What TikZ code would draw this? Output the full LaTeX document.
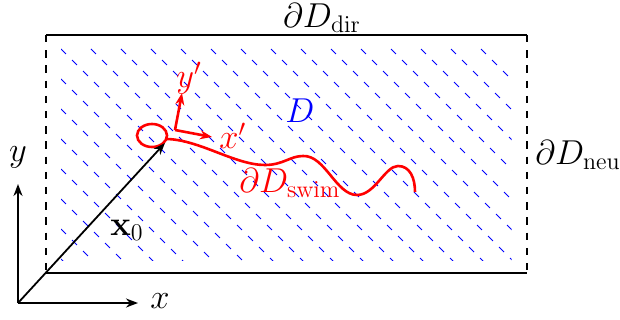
\documentclass[tikz,border=0pt]{standalone}
\usetikzlibrary{arrows.meta,shapes.geometric}
\begin{document}
\begin{tikzpicture}[x=0.5pt,y=-0.5pt,font=\fontsize{16.5}{20}\selectfont,
  blk/.style={line width=1pt,black},
  dborder/.style={line width=1pt,black,dash pattern=on 3.7pt off 3.9pt},
  hatch/.style={line width=0.5pt,blue,dash pattern=on 3.5pt off 4.28pt},
  axis/.style={line width=0.9pt,-{Stealth[length=6pt,width=4.5pt]}},
  redline/.style={line width=1.3pt,red},
  redarrow/.style={line width=1.3pt,red,-{Stealth[length=6pt,width=4.5pt]}}]
\useasboundingbox (0,0) rectangle (620,320);
% corners of the domain
\coordinate (tl) at (46,35);
\coordinate (tr) at (527,35);
\coordinate (bl) at (46,273);
\coordinate (br) at (527,273);
% hatching
\begin{scope}
\clip (61,49) rectangle (511.5,260);
\foreach \c in {-179,-149,...,481}{
  \pgfmathsetmacro{\sx}{max(\c,61)}
  \pgfmathsetmacro{\sy}{49+max(0,61-\c)}
  \draw[hatch] (\sx,\sy) -- ++(320,320);
}
\end{scope}
% boundary
\draw[blk] (tl) -- (tr);
\draw[blk] (bl) -- (br);
\draw[dborder] (tl) -- (bl);
\draw[dborder] (tr) -- (br);
% axes
\coordinate (o) at (18,303);
\coordinate (xe) at (138,303);
\coordinate (ye) at (18,184);
\draw[axis] (o) -- (xe);
\draw[axis] (o) -- (ye);
\node (xl) at (160,301) {$x$};
\node (yl) at (18,157) {$y$};
% swimmer
\node[draw=red,line width=1.3pt,ellipse,inner sep=0pt,
      minimum width=15pt,minimum height=11.5pt] (sw) at (152,135.5) {};
\coordinate (tip) at (165,143);
\draw[axis] (o) -- (tip);
\node (x0) at (127,230) {$\mathbf{x}_0$};
\coordinate (cs) at (167,139);
\coordinate (ce) at (415,192);
\draw[redline] (cs) .. controls (200,140) and (235,165) .. (265,165)
  .. controls (283,165) and (290,156) .. (303,156)
  .. controls (325,155) and (336,195) .. (357,195)
  .. controls (375,195) and (385,166) .. (398,166)
  .. controls (410,166) and (415,178) .. (ce);
% moving frame
\coordinate (fo) at (175,130);
\coordinate (fx) at (212,137);
\coordinate (fy) at (182,93);
\draw[redarrow] (fo) -- (fx);
\draw[redarrow] (fo) -- (fy);
\node[red,anchor=west,inner sep=0pt] (xp) at (219,136) {$x'$};
\node[red] (yp) at (189,78) {$y'$};
% labels
\node[blue] (D) at (300,111) {$D$};
\node[red] (sl) at (290,183) {$\partial D_{\mathrm{swim}}$};
\node (dl) at (322,18) {$\partial D_{\mathrm{dir}}$};
\node (nl) at (578,155) {$\partial D_{\mathrm{neu}}$};
\end{tikzpicture}
\end{document}
